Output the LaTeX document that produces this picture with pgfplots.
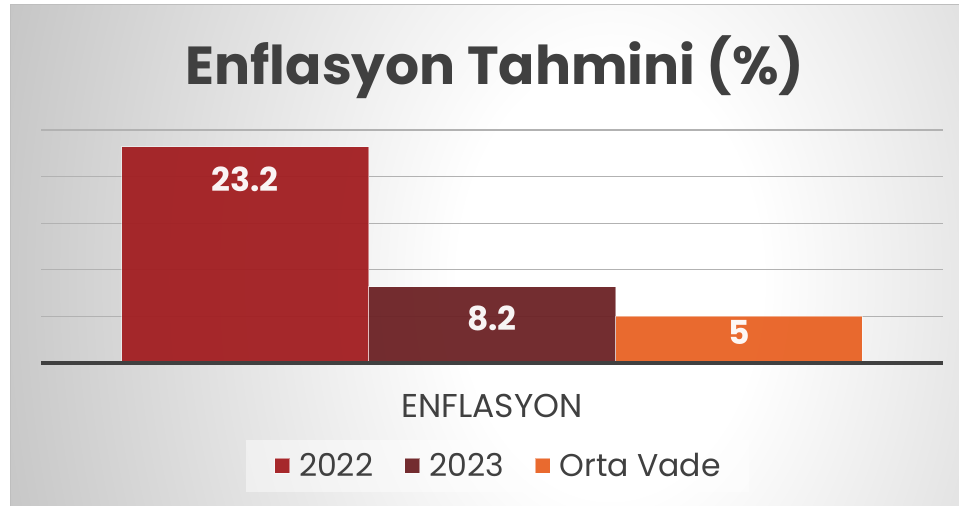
\documentclass[border=0pt]{standalone}
\usepackage{pgfplots}
\pgfplotsset{compat=1.18}
\usepackage{fontspec}
\setmainfont{Poppins}
\definecolor{bggray}{RGB}{198,198,198}
\definecolor{framegray}{RGB}{190,190,190}
\definecolor{txt}{RGB}{64,64,64}
\definecolor{gridc}{RGB}{178,178,178}
\definecolor{cA}{RGB}{162,30,33}
\definecolor{cB}{RGB}{108,34,37}
\definecolor{cC}{RGB}{232,98,36}
\pgfdeclareradialshading{bgshade}{\pgfpoint{0bp}{0bp}}{color(0bp)=(white); color(6bp)=(white); color(25bp)=(bggray); color(50bp)=(bggray)}
\newcommand\fsbig{\fontsize{53.5bp}{58bp}\selectfont}
\newcommand\fsmid{\fontsize{33bp}{36bp}\selectfont}
\newcommand\fsleg{\fontsize{31.5bp}{34bp}\selectfont}
\begin{document}
\begin{tikzpicture}
\path[use as bounding box] (0,0) rectangle (959bp,506bp);
\begin{scope}
\clip (10bp,0) rectangle (959bp,501.5bp);
\fill[bggray] (10bp,0) rectangle (959bp,501.5bp);
\shade[shading=bgshade] (610bp,226bp) ellipse (630bp and 900bp);
\end{scope}
\draw[framegray, line width=1bp] (10bp,0) -- (10bp,501.5bp) -- (959bp,501.5bp);
\node[anchor=base, text=txt, font=\fsbig\bfseries, inner sep=0pt] at (495bp,421bp) {Enflasyon Tahmini (\%)};
\begin{axis}[
  at={(41bp,143bp)}, anchor=south west,
  width=902bp, height=233bp, scale only axis,
  xmin=-1.826, xmax=1.826, ymin=0, ymax=25,
  axis line style={draw=none},
  ytick={5,10,15,20,25}, yticklabels={}, ymajorgrids,
  grid style={gridc, line width=1.1bp},
  xtick={0}, xticklabels={ENFLASYON}, major tick length=0pt,
  tick style={draw=none},
  xticklabel style={anchor=base, yshift=-54bp, font=\fsmid, text=txt},
  /pgf/number format/assume math mode=true,
  clip=false,
  legend columns=3,
  legend image code/.code={\draw[#1, draw opacity=0.5] (0bp,-7.5bp) rectangle (15bp,7.5bp);},
  legend style={at={(rel axis cs:0.506,-0.442)}, anchor=center,
    fill=white, fill opacity=0.45, text opacity=1, draw=none,
    font=\fsleg, text=txt, inner xsep=28bp, inner ysep=14bp,
    nodes={inner sep=0pt, anchor=west},
    /tikz/every odd column/.append style={column sep=9bp},
    /tikz/every even column/.append style={column sep=31bp}},
  nodes near coords,
  every node near coord/.append style={anchor=center, font=\fsmid\bfseries, text=white},
]
\addplot[ybar, bar width=1, bar shift=0pt, fill=cA, fill opacity=0.95, draw=white, draw opacity=0.45, line width=1bp,
  every node near coord/.append style={yshift=-33bp}] coordinates {(-1,23.2)};
\addlegendentry{2022}
\addplot[ybar, bar width=1, bar shift=0pt, fill=cB, fill opacity=0.95, draw=white, draw opacity=0.45, line width=1bp,
  every node near coord/.append style={yshift=-32bp}] coordinates {(0,8.2)};
\addlegendentry{2023}
\addplot[ybar, bar width=1, bar shift=0pt, fill=cC, fill opacity=0.95, draw=white, draw opacity=0.45, line width=1bp,
  every node near coord/.append style={yshift=-16bp}] coordinates {(1,5)};
\addlegendentry{Orta Vade}
\draw[txt, line width=3bp] (rel axis cs:0,0) -- (rel axis cs:1,0);
\end{axis}
\end{tikzpicture}
\end{document}
